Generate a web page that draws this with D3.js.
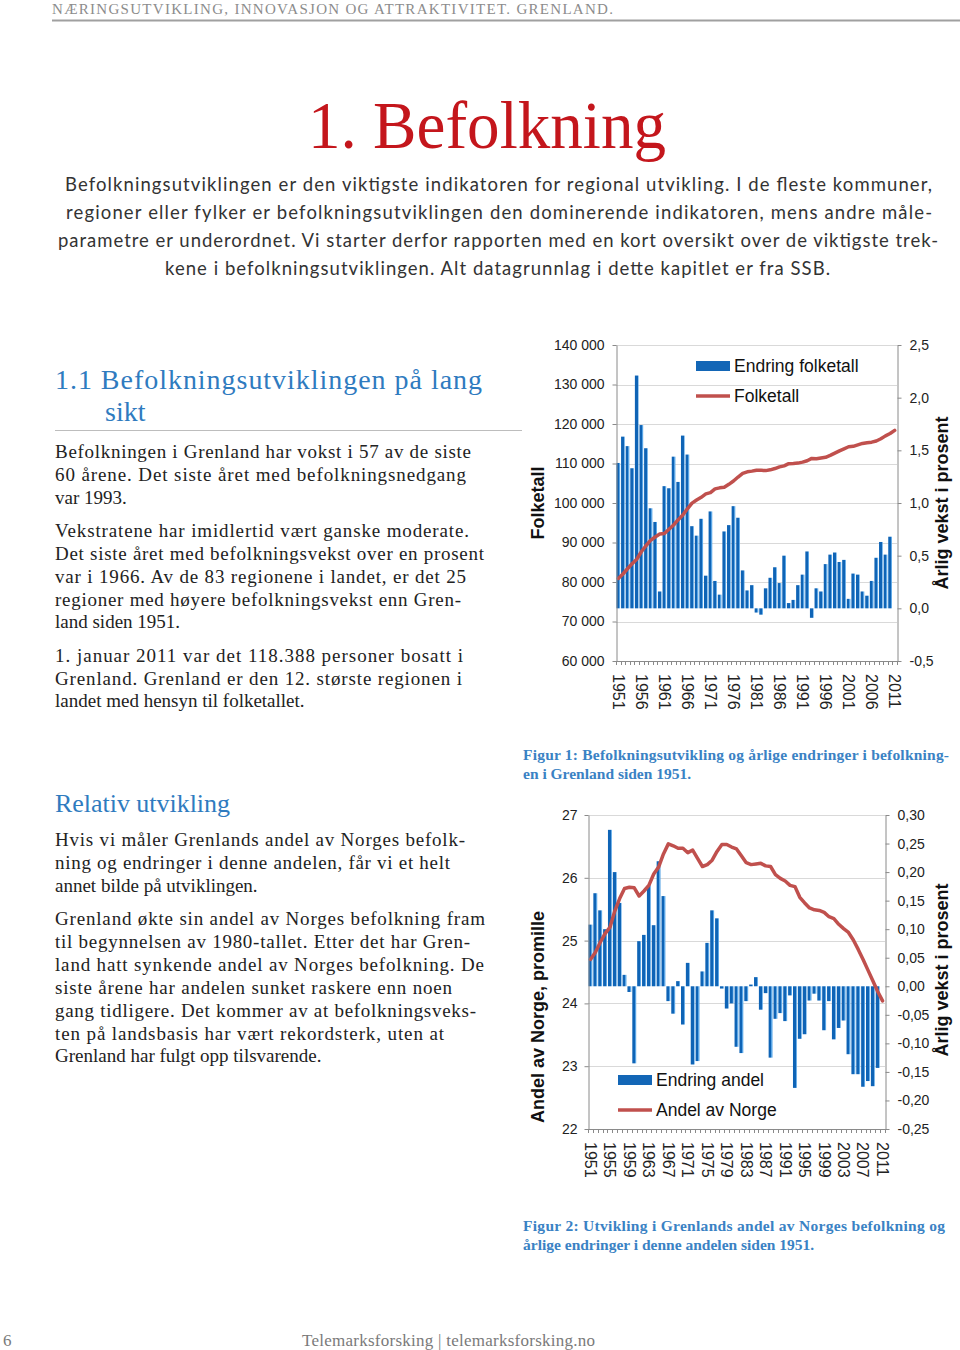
<!DOCTYPE html>
<html>
<head>
<meta charset="utf-8">
<script src="https://cdn.jsdelivr.net/npm/d3@7"></script>
<style>
  body { margin: 0; background: #fff; }
  svg { display: block; }
</style>
</head>
<body>
<script>
// ---- data: figur 1 (folketall Grenland) ----
const folkYears = [1951,1952,1953,1954,1955,1956,1957,1958,1959,1960,
  1961,1962,1963,1964,1965,1966,1967,1968,1969,1970,
  1971,1972,1973,1974,1975,1976,1977,1978,1979,1980,
  1981,1982,1983,1984,1985,1986,1987,1988,1989,1990,
  1991,1992,1993,1994,1995,1996,1997,1998,1999,2000,
  2001,2002,2003,2004,2005,2006,2007,2008,2009,2010,2011];
// arlig vekst i prosent (høyre akse)
const endringFolketall = [1.38,1.63,1.54,1.33,2.21,1.74,1.52,0.95,0.82,0.16,
  1.16,1.14,1.44,1.20,1.64,1.46,0.78,0.69,0.85,0.31,
  0.92,0.26,0.13,0.73,0.79,0.97,0.86,0.36,0.17,0.22,
  -0.04,-0.06,0.19,0.29,0.39,0.24,0.50,0.05,0.08,0.22,
  0.32,0.54,-0.09,0.19,0.16,0.42,0.51,0.53,0.44,0.46,
  0.09,0.33,0.32,0.16,0.12,0.26,0.48,0.63,0.51,0.68,null];
// folketall (venstre akse)
const folketall = [80900,82020,83350,84640,85760,87660,89180,90540,91400,92150,
  92300,93370,94430,95790,96940,98530,99970,100750,101440,102310,
  102620,103570,103840,103970,104730,105560,106580,107500,107890,108070,
  108310,108260,108200,108400,108720,109140,109400,109950,110010,110100,
  110340,110690,111290,111190,111400,111580,112050,112620,113210,113710,
  114240,114340,114720,115080,115270,115400,115700,116260,116990,117590,118388];
const folkLeftTicks = [60000,70000,80000,90000,100000,110000,120000,130000,140000];
const folkRightTicks = [-0.5,0,0.5,1,1.5,2,2.5];
const folkYearLabels = [1951,1956,1961,1966,1971,1976,1981,1986,1991,1996,2001,2006,2011];

// ---- data: figur 2 (andel av Norge) ----
const andelYears = folkYears;
const endringAndel = [0.108,0.163,0.133,0.100,0.274,0.200,0.146,0.020,-0.010,-0.135,
  0.079,0.090,0.177,0.107,0.219,0.158,-0.026,-0.048,0.009,-0.067,
  0.041,-0.137,-0.131,0.026,0.076,0.133,0.119,-0.004,-0.039,-0.030,
  -0.106,-0.117,-0.026,0.003,0.016,-0.041,-0.012,-0.125,-0.057,-0.047,
  -0.061,-0.016,-0.178,-0.092,-0.084,-0.025,-0.013,-0.025,-0.077,-0.026,
  -0.093,-0.073,-0.060,-0.119,-0.154,-0.154,-0.176,-0.166,-0.175,-0.143,null];
const andelNorge = [24.70,24.81,24.97,25.11,25.21,25.47,25.67,25.83,25.85,25.84,
  25.71,25.79,25.88,26.06,26.17,26.38,26.54,26.51,26.47,26.47,
  26.40,26.44,26.31,26.18,26.21,26.28,26.42,26.53,26.53,26.49,
  26.46,26.35,26.24,26.21,26.22,26.23,26.19,26.18,26.05,25.99,
  25.95,25.88,25.86,25.69,25.60,25.52,25.49,25.48,25.45,25.38,
  25.35,25.26,25.19,25.13,25.01,24.86,24.70,24.53,24.36,24.19,24.04];
const andelLeftTicks = [22,23,24,25,26,27];
const andelRightTicks = [-0.25,-0.2,-0.15,-0.1,-0.05,0,0.05,0.1,0.15,0.2,0.25,0.3];
const andelYearLabels = [1951,1955,1959,1963,1967,1971,1975,1979,1983,1987,1991,1995,1999,2003,2007,2011];

// ---- page ----
const serif = "'Liberation Serif', 'Times New Roman', serif";
const sans = "'Liberation Sans', Arial, sans-serif";
const blue = "#2f7bbf";

const svg = d3.select("body").append("svg")
    .attr("width", 960)
    .attr("height", 1350);

svg.append("rect").attr("width", 960).attr("height", 1350).attr("fill", "#fff");

// bar gradient (dark blue with a light edge)
const grad = svg.append("defs").append("linearGradient").attr("id", "barfill");
grad.append("stop").attr("offset", "0%").attr("stop-color", "#0f64b6");
grad.append("stop").attr("offset", "72%").attr("stop-color", "#0f64b6");
grad.append("stop").attr("offset", "73%").attr("stop-color", "#5aa6e6");
grad.append("stop").attr("offset", "100%").attr("stop-color", "#5aa6e6");

//header
svg.append("text").attr("x", 52).attr("y", 14)
    .attr("font-family", serif).attr("font-size", 15).attr("fill", "#8c8c8c")
    .attr("textLength", 561)
    .text("NÆRINGSUTVIKLING, INNOVASJON OG ATTRAKTIVITET. GRENLAND.");
svg.append("line").attr("x1", 52).attr("x2", 960).attr("y1", 20.5).attr("y2", 20.5)
    .attr("stroke", "#a0a0a0").attr("stroke-width", 2);

//title
svg.append("text").attr("x", 308).attr("y", 148)
    .attr("font-family", serif).attr("font-size", 68).attr("fill", "#c4161c")
    .attr("textLength", 358).attr("lengthAdjust", "spacingAndGlyphs")
    .text("1. Befolkning");

function textLines(lines, opts) {
    lines.forEach(l => {
        const t = svg.append("text")
            .attr("x", l[1]).attr("y", l[2])
            .attr("font-family", opts.family)
            .attr("font-size", opts.size)
            .attr("font-weight", opts.weight || "normal")
            .attr("fill", opts.fill)
            .text(l[0]);
        if (l[3]) t.attr("textLength", l[3]);
    });
}

textLines([
    ["Befolkningsutviklingen er den viktigste indikatoren for regional utvikling. I de fleste kommuner,", 65, 191, 867],
    ["regioner eller fylker er befolkningsutviklingen den dominerende indikatoren, mens andre måle-", 66, 219, 866],
    ["parametre er underordnet. Vi starter derfor rapporten med en kort oversikt over de viktigste trek-", 58, 247, 880],
    ["kene i befolkningsutviklingen. Alt datagrunnlag i dette kapitlet er fra SSB.", 165, 275, 665]
], { family: "Lato, 'Open Sans', sans-serif", size: 18.5, fill: "#333" });

// section 1.1
textLines([
    ["1.1 Befolkningsutviklingen på lang", 55, 389, 427],
    ["sikt", 105, 421]
], { family: serif, size: 28, fill: blue });
svg.append("line").attr("x1", 55).attr("x2", 522).attr("y1", 430.5).attr("y2", 430.5)
    .attr("stroke", "#bdbdbd").attr("stroke-width", 1);

textLines([
    ["Befolkningen i Grenland har vokst i 57 av de siste", 55, 458, 416],
    ["60 årene.  Det siste året med befolkningsnedgang", 55, 481, 411],
    ["var 1993.", 55, 504],
    ["Vekstratene har imidlertid vært ganske moderate.", 55, 537, 414],
    ["Det siste året med befolkningsvekst over en prosent", 55, 560, 429],
    ["var i 1966. Av de 83 regionene i landet, er det 25", 55, 583, 411],
    ["regioner med høyere befolkningsvekst enn Gren-", 55, 606, 406],
    ["land siden 1951.", 55, 628],
    ["1. januar 2011 var det 118.388 personer bosatt i", 55, 662, 408],
    ["Grenland. Grenland er den 12. største regionen i", 55, 685, 407],
    ["landet med hensyn til folketallet.", 55, 707]
], { family: serif, size: 19, fill: "#222" });

// relativ utvikling
textLines([["Relativ utvikling", 55, 812, 175]], { family: serif, size: 26, fill: blue });
textLines([
    ["Hvis vi måler Grenlands andel av Norges befolk-", 55, 846, 410],
    ["ning og endringer i denne andelen, får vi et helt", 55, 869, 395],
    ["annet bilde på utviklingen.", 55, 892],
    ["Grenland økte sin andel av Norges befolkning fram", 55, 925, 430],
    ["til begynnelsen av 1980-tallet. Etter det har Gren-", 55, 948, 415],
    ["land hatt synkende andel av Norges befolkning. De", 55, 971, 429],
    ["siste årene har andelen sunket raskere enn noen", 55, 994, 397],
    ["gang tidligere. Det kommer av at befolkningsveks-", 55, 1017, 421],
    ["ten på landsbasis har vært rekordsterk, uten at", 55, 1040, 389],
    ["Grenland har fulgt opp tilsvarende.", 55, 1062]
], { family: serif, size: 19, fill: "#222" });

// figure captions
textLines([
    ["Figur 1: Befolkningsutvikling og årlige endringer i befolkning-", 523, 760, 426],
    ["en i Grenland siden 1951.", 523, 779],
    ["Figur 2: Utvikling i Grenlands andel av Norges befolkning og", 523, 1231, 422],
    ["årlige endringer i denne andelen siden 1951.", 523, 1250]
], { family: serif, size: 15.5, weight: "bold", fill: "#3a82c4" });

// footer
textLines([
    ["6", 3, 1346],
    ["Telemarksforsking  |  telemarksforsking.no", 302, 1346, 293]
], { family: serif, size: 17, fill: "#7a7a7a" });

// ---- combo chart (bars on right axis, line on left axis) ----
function drawCombo(cfg) {
    const g = svg.append("g");

    const x = d3.scaleBand()
        .domain(cfg.years)
        .range([cfg.x0, cfg.x1])
        .paddingInner(0.2)
        .paddingOuter(0.1);
    const bw = x.bandwidth();

    const yL = d3.scaleLinear().domain(cfg.leftDomain).range([cfg.yBot, cfg.yTop]);
    const yR = d3.scaleLinear().domain(cfg.rightDomain).range([cfg.yBot, cfg.yTop]);

    //gridlines
    g.selectAll(".grid")
        .data(cfg.leftTicks.slice(1))
        .enter().append("line")
        .attr("x1", cfg.x0).attr("x2", cfg.x1)
        .attr("y1", d => Math.round(yL(d)) + 0.5)
        .attr("y2", d => Math.round(yL(d)) + 0.5)
        .attr("stroke", "#d9d9d9");

    //bars
    const barData = cfg.years.map((yr, i) => ({ yr: yr, v: cfg.bars[i] })).filter(d => d.v !== null);
    g.selectAll(".bar")
        .data(barData)
        .enter().append("rect")
        .attr("x", d => x(d.yr))
        .attr("width", bw)
        .attr("y", d => Math.min(yR(d.v), yR(0)))
        .attr("height", d => Math.abs(yR(d.v) - yR(0)))
        .attr("fill", "url(#barfill)");

    //line
    const lineGen = d3.line()
        .x((d, i) => x(cfg.years[i]) + bw / 2)
        .y(d => yL(d));
    g.append("path")
        .datum(cfg.line)
        .attr("d", lineGen)
        .attr("fill", "none")
        .attr("stroke", "#c0504d")
        .attr("stroke-width", 3.5)
        .attr("stroke-linejoin", "round")
        .attr("stroke-linecap", "round");

    //axes
    const leftAxis = d3.axisLeft(yL).tickValues(cfg.leftTicks).tickFormat(cfg.leftFmt)
        .tickSize(4).tickSizeOuter(0).tickPadding(cfg.leftPad);
    const rightAxis = d3.axisRight(yR).tickValues(cfg.rightTicks).tickFormat(cfg.rightFmt)
        .tickSize(4).tickSizeOuter(0).tickPadding(8);

    const la = g.append("g").attr("transform", `translate(${cfg.x0 + 0.5},0)`).call(leftAxis);
    const ra = g.append("g").attr("transform", `translate(${cfg.x1 + 0.5},0)`).call(rightAxis);
    [la, ra].forEach(a => {
        a.select(".domain").attr("stroke", "#8a8a8a");
        a.selectAll(".tick line").attr("stroke", "#8a8a8a");
        a.selectAll("text").attr("font-family", sans).attr("font-size", 14).attr("fill", "#222");
    });

    //category axis
    const step = x.step();
    const bounds = cfg.years.map(yr => x(yr) - step * x.paddingInner() / 2).concat([cfg.x1]);
    g.append("line").attr("x1", cfg.x0).attr("x2", cfg.x1 + 1)
        .attr("y1", cfg.yBot + 0.5).attr("y2", cfg.yBot + 0.5)
        .attr("stroke", "#8a8a8a");
    g.selectAll(".ctick")
        .data(bounds)
        .enter().append("line")
        .attr("x1", d => Math.round(d) + 0.5).attr("x2", d => Math.round(d) + 0.5)
        .attr("y1", cfg.yBot).attr("y2", cfg.yBot + 4)
        .attr("stroke", "#8a8a8a");

    g.selectAll(".ylab")
        .data(cfg.yearLabels)
        .enter().append("text")
        .attr("transform", d => `translate(${x(d) + bw / 2},${cfg.yBot + 13}) rotate(90)`)
        .attr("dy", "0.35em")
        .attr("font-family", sans).attr("font-size", 16).attr("fill", "#222")
        .text(d => d);

    //axis titles
    g.append("text")
        .attr("transform", `translate(538,${cfg.leftTitleY}) rotate(-90)`)
        .attr("dy", "0.35em").attr("text-anchor", "middle")
        .attr("font-family", sans).attr("font-size", 18).attr("font-weight", "bold").attr("fill", "#111")
        .text(cfg.leftTitle);
    g.append("text")
        .attr("transform", `translate(942,${cfg.rightTitleY}) rotate(-90)`)
        .attr("dy", "0.35em").attr("text-anchor", "middle")
        .attr("font-family", sans).attr("font-size", 18).attr("font-weight", "bold").attr("fill", "#111")
        .text(cfg.rightTitle);

    //legend
    const lg = cfg.legend;
    g.append("rect").attr("x", lg.x).attr("y", lg.y1 - 5).attr("width", 34).attr("height", 10)
        .attr("fill", "#1366b6");
    g.append("line").attr("x1", lg.x).attr("x2", lg.x + 34).attr("y1", lg.y2).attr("y2", lg.y2)
        .attr("stroke", "#c0504d").attr("stroke-width", 3.5);
    g.append("text").attr("x", lg.x + 38).attr("y", lg.y1).attr("dy", "0.35em")
        .attr("font-family", sans).attr("font-size", 17.5).attr("fill", "#111").text(lg.barText);
    g.append("text").attr("x", lg.x + 38).attr("y", lg.y2).attr("dy", "0.35em")
        .attr("font-family", sans).attr("font-size", 17.5).attr("fill", "#111").text(lg.lineText);
}

// norwegian number style, plain hyphen for minus
const spaceThousands = d => d3.format(",")(d).replace(/,/g, " ");
const commaDec = digits => d => d3.format(`.${digits}f`)(d).replace(".", ",").replace("\u2212", "-");

drawCombo({
    years: folkYears, bars: endringFolketall, line: folketall,
    x0: 616, x1: 897, yTop: 345, yBot: 661,
    leftDomain: [60000, 140000], rightDomain: [-0.5, 2.5],
    leftTicks: folkLeftTicks, rightTicks: folkRightTicks,
    leftFmt: spaceThousands, rightFmt: commaDec(1), leftPad: 8,
    yearLabels: folkYearLabels,
    leftTitle: "Folketall", leftTitleY: 503,
    rightTitle: "Årlig vekst i prosent", rightTitleY: 503,
    legend: { x: 696, y1: 366, y2: 396, barText: "Endring folketall", lineText: "Folketall" }
});

drawCombo({
    years: andelYears, bars: endringAndel, line: andelNorge,
    x0: 588, x1: 885, yTop: 815, yBot: 1129,
    leftDomain: [22, 27], rightDomain: [-0.25, 0.30],
    leftTicks: andelLeftTicks, rightTicks: andelRightTicks,
    leftFmt: d3.format("d"), rightFmt: commaDec(2), leftPad: 7,
    yearLabels: andelYearLabels,
    leftTitle: "Andel  av Norge, promille", leftTitleY: 1017,
    rightTitle: "Årlig vekst i prosent", rightTitleY: 970,
    legend: { x: 618, y1: 1080, y2: 1110, barText: "Endring andel", lineText: "Andel av Norge" }
});
</script>
</body>
</html>
